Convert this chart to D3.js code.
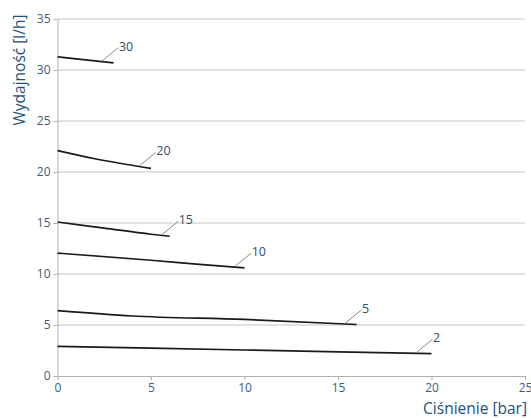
<!DOCTYPE html>
<html>
<head>
  <meta charset="UTF-8">
  <title>Wydajność vs ciśnienie</title>
  <style>
    body { margin: 0; background: #fff; }
    .grid line { stroke: #c4c4c4; stroke-width: 1; }
    .axis path, .axis line { stroke: #b0b0b0; }
    .axis text { font: 12px "Open Sans", sans-serif; fill: #3f5b7a; }
    .curve { fill: none; stroke: #1a1a1a; stroke-width: 1.7; }
    .leader { stroke: #8a8a8a; stroke-width: 1; }
    .lbl { font: 12.5px "Open Sans", sans-serif; fill: #2f4b6e; }
    .title { font: 15.5px "Open Sans", sans-serif; fill: #23507c; }
  </style>
</head>
<body>
<svg id="chart" width="531" height="418"></svg>

<script src="https://d3js.org/d3.v7.min.js"></script>
<script>
  // series names (labels next to each curve)
  var series = ["30", "20", "15", "10", "5", "2"];
  // pressure readings [bar] per series
  var pressure = {
    "30": [0, 1.5, 3],
    "20": [0, 2, 5],
    "15": [0, 2.5, 5, 6],
    "10": [0, 5, 7.6, 10],
    "5":  [0, 4, 10, 16],
    "2":  [0, 10, 20]
  };
  // flow readings [l/h] per series
  var flow = {
    "30": [31.3, 31.0, 30.7],
    "20": [22.1, 21.3, 20.35],
    "15": [15.1, 14.5, 13.9, 13.7],
    "10": [12.05, 11.35, 10.95, 10.6],
    "5":  [6.4, 5.88, 5.55, 5.05],
    "2":  [2.9, 2.55, 2.2]
  };
  // where the leader line of each label meets its curve [bar]
  var leaderAt = { "30": 2.4, "20": 4.4, "15": 5.6, "10": 9.5, "5": 15.4, "2": 19.2 };
  var xTicks = [0, 5, 10, 15, 20, 25];
  var yTicks = [0, 5, 10, 15, 20, 25, 30, 35];

  var margin = {top: 19, right: 6, bottom: 42, left: 57.5},
      width = 531 - margin.left - margin.right,
      height = 418 - margin.top - margin.bottom;

  var svg = d3.select("#chart");
  var chart = svg.append("g")
    .attr("transform", "translate(" + margin.left + "," + margin.top + ")");

  var x = d3.scaleLinear().domain([0, 25]).range([0, width]);
  var y = d3.scaleLinear().domain([0, 35]).range([height, 0]);

  // horizontal gridlines
  chart.append("g")
    .attr("class", "grid")
    .selectAll("line")
    .data(yTicks.filter(function(d) { return d > 0; }))
    .join("line")
    .attr("x1", 0)
    .attr("x2", width)
    .attr("y1", function(d) { return y(d); })
    .attr("y2", function(d) { return y(d); });

  // axes
  chart.append("g")
    .attr("class", "axis")
    .attr("transform", "translate(0," + height + ")")
    .call(d3.axisBottom(x).tickValues(xTicks).tickSize(4).tickPadding(3).tickSizeOuter(0));

  chart.append("g")
    .attr("class", "axis")
    .call(d3.axisLeft(y).tickValues(yTicks).tickSize(4).tickPadding(3).tickSizeOuter(0));

  // curves
  var line = d3.line()
    .x(function(d) { return x(d[0]); })
    .y(function(d) { return y(d[1]); })
    .curve(d3.curveMonotoneX);

  series.forEach(function(s) {
    var pts = pressure[s].map(function(p, i) { return [p, flow[s][i]]; });
    chart.append("path")
      .attr("class", "curve")
      .attr("d", line(pts));

    // leader + label
    var lx = leaderAt[s];
    var ly = d3.scaleLinear().domain(pressure[s]).range(flow[s])(lx);
    var px = x(lx), py = y(ly) - 1;
    chart.append("line")
      .attr("class", "leader")
      .attr("x1", px).attr("y1", py)
      .attr("x2", px + 16).attr("y2", py - 13);
    chart.append("text")
      .attr("class", "lbl")
      .attr("x", px + 16.5)
      .attr("y", py - 10)
      .text(s);
  });

  // axis titles
  svg.append("text")
    .attr("class", "title")
    .attr("text-anchor", "end")
    .attr("x", 527)
    .attr("y", 414)
    .text("Ciśnienie [bar]");

  svg.append("text")
    .attr("class", "title")
    .attr("text-anchor", "middle")
    .attr("transform", "translate(25,70) rotate(-90)")
    .text("Wydajność [l/h]");
</script>
</body>
</html>
